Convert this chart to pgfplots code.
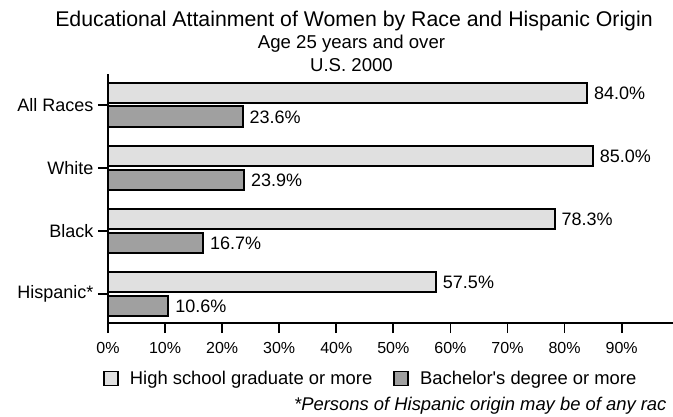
\documentclass[border=0pt]{standalone}
\usepackage{pgfplots}
\pgfplotsset{compat=1.18}
\usepackage{fontspec}
\setmainfont{Liberation Sans}
\definecolor{hsfill}{HTML}{E0E0E0}
\definecolor{bafill}{HTML}{A0A0A0}

\begin{document}
\begin{tikzpicture}
\clip (0bp,0bp) rectangle (673bp,417bp);
\begin{axis}[
  at={(108bp,94bp)}, anchor=south west,
  scale only axis, width=565bp, height=249bp,
  xbar, bar width=0.33,
  xmin=0, xmax=99, ymin=-0.46, ymax=3.49,
  axis lines=left, axis line style={-, line width=2bp},
  tick align=outside, major tick length=10bp,
  tick style={line width=1.8bp, black},
  xtick={0,10,...,90},
  xticklabel={\pgfmathprintnumber{\tick}\%},
  ytick={0,1,2,3}, yticklabels={Hispanic*,Black,White,All Races},
  /pgf/number format/assume math mode=true,
  xticklabel style={font=\fontsize{16bp}{19bp}\selectfont, yshift=-6bp},
  yticklabel style={font=\fontsize{18bp}{21bp}\selectfont, xshift=-1bp},
  point meta=x,
  nodes near coords={\pgfmathprintnumber[fixed,fixed zerofill,precision=1]{\pgfplotspointmeta}\%},
  nodes near coords align=horizontal,
  every node near coord/.append style={font=\fontsize{18bp}{21bp}\selectfont, black, xshift=2.5bp},
  legend style={at={(rel axis cs:-0.009,-0.223)}, anchor=west, legend columns=2, draw=none, fill=none,
    inner sep=0pt, font=\fontsize{18.4bp}{21bp}\selectfont,
    /tikz/every odd column/.append style={column sep=9bp},
    /tikz/every even column/.append style={column sep=19bp}},
  legend image code/.code={\draw[#1, line width=1.8bp] (0bp,-7bp) rectangle (14bp,7bp);},
]
\addplot[draw=black, line width=2bp, fill=hsfill, bar shift=0.19]
  coordinates {(84.0,3) (85.0,2) (78.3,1) (57.5,0)};
\addlegendentry{High school graduate or more}
\addplot[draw=black, line width=2bp, fill=bafill, bar shift=-0.19]
  coordinates {(23.6,3) (23.9,2) (16.7,1) (10.6,0)};
\addlegendentry{Bachelor\textquotesingle s degree or more}
\end{axis}
\node[font=\fontsize{21.3bp}{25bp}\selectfont, anchor=base, inner sep=0pt] at (354bp,390bp) {Educational Attainment of Women by Race and Hispanic Origin};
\node[font=\fontsize{18.6bp}{22bp}\selectfont, anchor=base, inner sep=0pt] at (351.5bp,368bp) {Age 25 years and over};
\node[font=\fontsize{18.6bp}{22bp}\selectfont, anchor=base, inner sep=0pt] at (351.5bp,345bp) {U.S. 2000};
\node[font=\fontsize{18.4bp}{22bp}\selectfont\itshape, anchor=base west, inner sep=0pt] at (294bp,7bp) {*Persons of Hispanic origin may be of any rac};
\end{tikzpicture}
\end{document}
